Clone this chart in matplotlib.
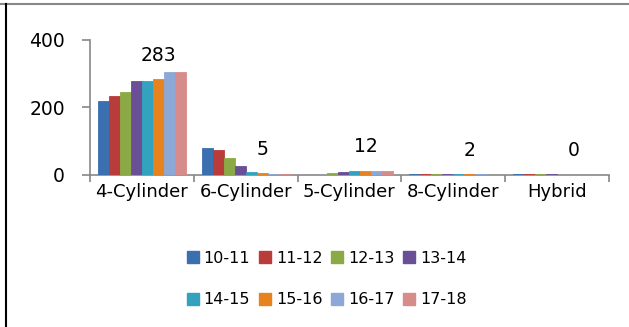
import numpy as np
import matplotlib
matplotlib.use('Agg')
import matplotlib.pyplot as plt
from matplotlib.lines import Line2D

# engine types and season values
categories = ['4-Cylinder', '6-Cylinder', '5-Cylinder', '8-Cylinder', 'Hybrid']
seasons = ['10-11', '11-12', '12-13', '13-14', '14-15', '15-16', '16-17', '17-18']
v_10_11 = [218, 80, 0, 2, 2]
v_11_12 = [235, 75, 0, 2, 2]
v_12_13 = [247, 50, 5, 2, 2]
v_13_14 = [277, 27, 10, 2, 2]
v_14_15 = [277, 9, 11, 2, 0]
v_15_16 = [283, 5, 12, 2, 0]
v_16_17 = [306, 4, 12, 2, 0]
v_17_18 = [306, 4, 13, 0, 0]
series = [v_10_11, v_11_12, v_12_13, v_13_14, v_14_15, v_15_16, v_16_17, v_17_18]
colors = ['#3A6FB0', '#B73C3A', '#8BAA45', '#6A4E96', '#33A2BF', '#E6831F', '#8DA8D6', '#D58C8B']
labelled = 5   # 15-16 carries the value labels

plt.rcParams['font.family'] = ['DejaVu Sans']

fig = plt.figure(figsize=(6.29, 3.27), dpi=100)
ax = fig.add_axes([0.143, 0.465, 0.825, 0.413])

x = np.arange(len(categories))
w = 0.106
for i, vals in enumerate(series):
    pos = x + (i - 3.5) * w
    ax.bar(pos, vals, w, color=colors[i], edgecolor=colors[i], linewidth=0.6,
           label=seasons[i], zorder=3)
    if i == labelled:
        for p, v in zip(pos, vals):
            ax.annotate(str(v), (p, v), xytext=(0, 24), textcoords='offset pixels',
                        ha='center', va='center', fontsize=13.5)

ax.set_xlim(-0.5, 4.5)
ax.set_ylim(0, 400)
ax.set_yticks([0, 200, 400])
ax.set_xticks(np.arange(-0.5, 5.0, 1.0))
ax.set_xticklabels([])
ax.set_xticks(x, minor=True)
ax.set_xticklabels(categories, minor=True)
ax.tick_params(axis='x', which='minor', length=0, labelsize=13, pad=6)
ax.tick_params(axis='x', which='major', length=5, color='#888888', width=1.2)
ax.tick_params(axis='y', length=6, color='#888888', width=1.2, labelsize=13.5, pad=12)
for s in ['top', 'right']:
    ax.spines[s].set_visible(False)
ax.spines['left'].set_color('#888888')
ax.spines['bottom'].set_color('#888888')
ax.spines['left'].set_linewidth(1.2)
ax.spines['bottom'].set_linewidth(1.2)

# legend filled row by row: 4 columns, 2 rows
order = [0, 4, 1, 5, 2, 6, 3, 7]
handles = [Line2D([], [], marker='s', linestyle='none', markersize=8.5,
                  markerfacecolor=colors[k], markeredgecolor=colors[k]) for k in order]
fig.legend(handles, [seasons[k] for k in order], loc='center',
           bbox_to_anchor=(0.519, 0.147), ncol=4, frameon=False, fontsize=11.5,
           handletextpad=0.3, columnspacing=0.5, labelspacing=1.65, handlelength=0.8)

# outer frame lines
fig.add_artist(Line2D([0, 1], [0.988, 0.988], color='#888888', lw=1.5))
fig.add_artist(Line2D([0.0103, 0.0103], [0, 0.988], color='black', lw=1.5))

fig.savefig('out.png', dpi=100)
